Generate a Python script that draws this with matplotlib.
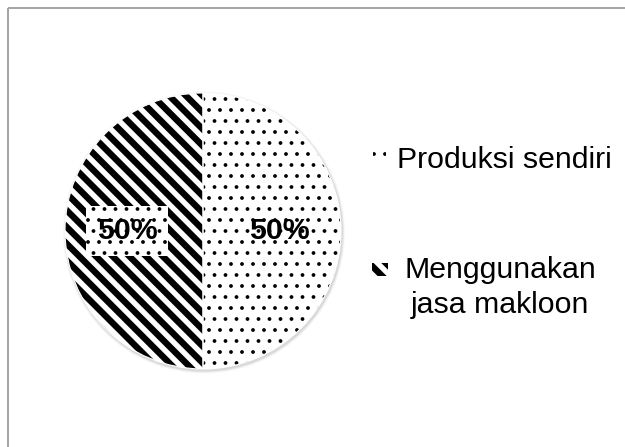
import matplotlib
matplotlib.use("Agg")
import matplotlib.pyplot as plt
import numpy as np
from matplotlib.patches import Circle, Rectangle, Wedge

# data
categories = ["Produksi sendiri", "Menggunakan\njasa makloon"]
shares = [50, 50]

DPI = 66
W, H = 625, 447
FONT = "Liberation Sans"
FS = 33

plt.rcParams["hatch.linewidth"] = 1.7
plt.rcParams["hatch.color"] = "black"

fig = plt.figure(figsize=(W / DPI, H / DPI), dpi=DPI, facecolor="white")
ax = fig.add_axes([0, 0, 1, 1])

cx, cy, r = 203, H - 231, 138


def add_stripes(clip, x0, x1, y0, y1):
    """Thick '\\' stripes clipped to a patch."""
    step = 16.7
    for c in np.arange(x0 + y0 - 40, x1 + y1 + 40, step):
        xs = np.array([x0 - 20, x1 + 20])
        ln, = ax.plot(xs, c - xs, color="black", lw=7.0,
                      solid_capstyle="butt", zorder=2)
        ln.set_clip_path(clip)


# soft drop shadow
for k, a in enumerate([0.07, 0.05, 0.03]):
    ax.add_patch(Circle((cx + 1, cy - 1.5), r + 1 + k, color="black",
                        alpha=a, lw=0, zorder=0))

wedges, _, pcts = ax.pie(
    shares, center=(cx, cy), radius=r, startangle=90, counterclock=False,
    colors=["white", "white"], autopct="%1.0f%%", pctdistance=0.55,
    wedgeprops=dict(linewidth=0, edgecolor="black"),
    textprops=dict(fontsize=FS, fontweight="bold", family=FONT, color="black"),
)
for w in wedges:
    w.set_zorder(1)
wedges[0].set_hatch(".")

add_stripes(wedges[1], cx - r, cx, cy - r, cy + r)

# white divider between the slices
for w in wedges:
    ax.add_patch(Wedge(w.center, w.r, w.theta1, w.theta2, fill=False,
                       ec="white", lw=1.2, zorder=3))

for t in pcts:
    t.set_zorder(5)
    t.set_bbox(dict(boxstyle="square,pad=0.36", fc="white", ec="black",
                    lw=0, hatch="."))

# legend
leg_x = 373
ax.add_patch(Rectangle((leg_x, H - 160), 13, 12, fc="white", ec="black",
                       lw=0, hatch=".", zorder=2))
ax.text(397, H - 168, categories[0], fontsize=FS, family=FONT,
        ha="left", va="baseline")

box = Rectangle((leg_x - 1, H - 276), 16, 13, fc="white", lw=0, zorder=1)
ax.add_patch(box)
add_stripes(box, leg_x - 1, leg_x + 15, H - 276, H - 263)
for line, base in zip(categories[1].split("\n"), [278, 313]):
    ax.text(500, H - base, line, fontsize=FS, family=FONT,
            ha="center", va="baseline")

# chart-area frame: only the top and left edges fall inside the canvas
ax.plot([8, W + 10], [H - 8, H - 8], color="#a6a6a6", lw=2.2,
        solid_capstyle="butt", zorder=6)
ax.plot([8, 8], [H - 8, -10], color="#a6a6a6", lw=2.2,
        solid_capstyle="butt", zorder=6)

ax.set_xlim(0, W)
ax.set_ylim(0, H)
ax.set_aspect("auto")
ax.axis("off")

fig.savefig("out.png", dpi=DPI, facecolor="white")
